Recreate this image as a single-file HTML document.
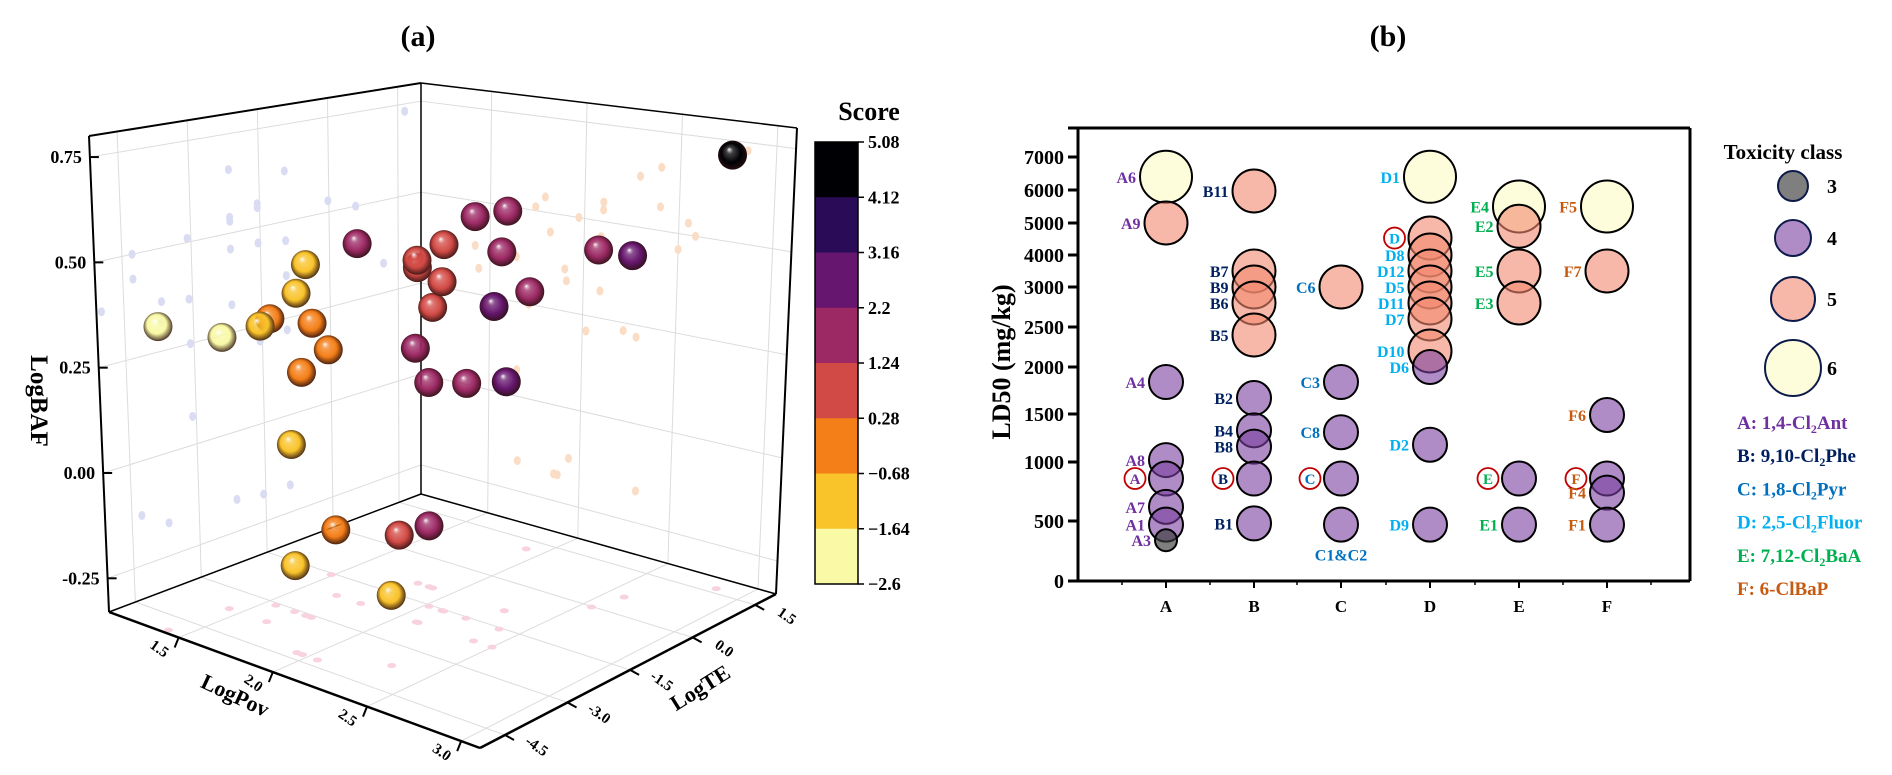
<!DOCTYPE html>
<html><head><meta charset="utf-8"><style>
html,body{margin:0;padding:0;background:#fff}
svg{display:block;font-family:"Liberation Serif",serif;font-weight:bold}
</style></head><body>
<svg id="fig" width="1892" height="775" viewBox="0 0 1892 775" xmlns="http://www.w3.org/2000/svg">
<defs id="defs"></defs>
<g id="pa"></g>
<g id="cb"></g>
<g id="pb"></g>
</svg>
<script>
// ===== Panel (a) data =====
const sPov = [1.42,1.44,1.74,1.97,1.64,1.55,2.05,1.49,1.71,1.79,2.10,1.82,2.10,2.09,1.90,2.09,2.02,2.29,2.40,2.40,1.91,2.50,2.22,2.29,2.55,2.59,2.85,1.66,1.86,1.88,1.94,2.31,1.65];
const sTE  = [-4.99,-3.68,-3.08,-4.28,-3.68,-3.08,-4.28,-1.55,-3.08,-2.15,-1.55,-0.95,-2.15,-1.55,-0.95,-2.15,-1.55,-0.95,-2.15,-1.55,1.18,-2.15,-1.55,-0.95,-0.02,0.58,1.65,-2.15,-1.55,-0.95,-4.28,-3.68,-3.08];
const sBAF = [0.38,0.32,0.51,0.50,0.37,0.36,0.44,0.23,0.25,0.54,0.55,0.45,0.53,0.46,0.36,0.32,0.21,0.63,0.66,0.56,0.33,0.46,0.23,0.22,0.53,0.50,0.73,-0.17,-0.18,-0.18,-0.13,-0.17,0.07];
const sScore = [-2.3,-2.2,-1.2,-1.2,-1.2,-0.2,-0.2,-0.2,-0.2,1.8,0.8,0.8,0.8,0.8,0.8,1.8,1.8,1.8,1.8,1.8,1.8,2.9,1.8,2.9,1.8,2.7,5.0,-0.2,0.8,1.8,-1.2,-1.2,-1.2];
const bafTicks = [-0.25,0,0.25,0.5,0.75];
const bafTickLabels = ["-0.25","0.00","0.25","0.50","0.75"];
const povTicks = [1.5,2.0,2.5,3.0];
const povTickLabels = ["1.5","2.0","2.5","3.0"];
const teTicks = [-4.5,-3.0,-1.5,0.0,1.5];
const teTickLabels = ["-4.5","-3.0","-1.5","0.0","1.5"];
const cbBounds = [5.08,4.12,3.16,2.2,1.24,0.28,-0.68,-1.64,-2.6];
const cbLabels = ["5.08","4.12","3.16","2.2","1.24","0.28","\u22120.68","\u22121.64","\u22122.6"];
const cbColors = ["#000004","#2a0b57","#66166e","#9c2964","#d24a45","#f47e17","#f9c32a","#f9f9a6"];

// ===== Panel (b) data =====
const bNames = ["A6","A9","A4","A8","A","A7","A1","A3","B11","B7","B9","B6","B5","B2","B4","B8","B","B1","C6","C3","C8","C","C1&C2","D1","D","D8","D12","D5","D11","D7","D10","D6","D2","D9","E4","E2","E5","E3","E","E1","F5","F7","F6","F","F4","F1"];
const bGroup = ["A","A","A","A","A","A","A","A","B","B","B","B","B","B","B","B","B","B","C","C","C","C","C","D","D","D","D","D","D","D","D","D","D","D","E","E","E","E","E","E","F","F","F","F","F","F"];
const bLD50 = [6400,5000,1840,1020,860,620,470,340,5970,3500,3000,2800,2400,1670,1330,1160,860,480,3000,1840,1310,860,470,6400,4530,4000,3500,3000,2800,2600,2200,2000,1180,470,5500,4900,3500,2800,860,470,5500,3500,1490,860,740,470];
const bClass = [6,5,4,4,4,4,4,3,5,5,5,5,5,4,4,4,4,4,5,4,4,4,4,6,5,5,5,5,5,5,5,4,4,4,6,5,5,5,4,4,6,5,4,4,4,4];
const parentNames = ["A","B","C","D","E","F"];
const yTickVals = [0,500,1000,1500,2000,2500,3000,4000,5000,6000,7000];
const yTickLabels = ["0","500","1000","1500","2000","2500","3000","4000","5000","6000","7000"];
const xCats = ["A","B","C","D","E","F"];
const legendClasses = [3,4,5,6];
const legendGroups = ["A","B","C","D","E","F"];
const legendGroupText = [["A: 1,4-Cl","2","Ant"],["B: 9,10-Cl","2","Phe"],["C: 1,8-Cl","2","Pyr"],["D: 2,5-Cl","2","Fluor"],["E: 7,12-Cl","2","BaA"],["F: 6-ClBaP","",""]];

const NS="http://www.w3.org/2000/svg";
function mk(tag,attrs,parent,text){const e=document.createElementNS(NS,tag);for(const k in attrs)e.setAttribute(k,attrs[k]);if(text!==undefined)e.textContent=text;parent.appendChild(e);return e;}
const defs=document.getElementById('defs');
const pa=document.getElementById('pa'), cb=document.getElementById('cb'), pb=document.getElementById('pb');

// ---- panel a projection ----
const FL={c00:[109,612],c10:[480,748],c11:[776,594],c01:[421,494]};
const TP={c00:[89,136],c10:[481,217],c11:[797,128],c01:[421,83]};
function bil(c,u,v,i){return c.c00[i]*(1-u)*(1-v)+c.c10[i]*u*(1-v)+c.c11[i]*u*v+c.c01[i]*(1-u)*v;}
function uvw(pov,te,baf){return [(pov-1.13)/1.97,(te+5.1)/7.1,(baf+0.33)/1.13];}
function projUVW(u,v,w){return [bil(FL,u,v,0)*(1-w)+bil(TP,u,v,0)*w, bil(FL,u,v,1)*(1-w)+bil(TP,u,v,1)*w];}
function proj(pov,te,baf){const q=uvw(pov,te,baf);return projUVW(q[0],q[1],q[2]);}
function colorFor(s){for(let i=0;i<8;i++){if(s>=cbBounds[i+1])return cbColors[i];}return cbColors[7];}
function line(p,q,st,sw,par,name){const l=mk('line',{x1:p[0],y1:p[1],x2:q[0],y2:q[1],stroke:st,'stroke-width':sw},par);return l;}

const title_a=mk('text',{x:418,y:46,'font-size':30,'text-anchor':'middle'},pa,'(a)');


// grid
const grid=mk('g',{},pa);
const gc='#dcdcdc';
bafTicks.forEach(b=>{const w=(b+0.33)/1.13;
  line(projUVW(0,0,w),projUVW(0,1,w),gc,1,grid,'left-wall-gridline');
  line(projUVW(0,1,w),projUVW(1,1,w),gc,1,grid,'right-wall-gridline');});
teTicks.forEach(t=>{const v=(t+5.1)/7.1;
  line(projUVW(0,v,0),projUVW(0,v,1),gc,1,grid,'left-wall-gridline');
  line(projUVW(0,v,0),projUVW(1,v,0),gc,1,grid,'floor-gridline');});
povTicks.forEach(p=>{const u=(p-1.13)/1.97;
  line(projUVW(u,1,0),projUVW(u,1,1),gc,1,grid,'right-wall-gridline');
  line(projUVW(u,0,0),projUVW(u,1,0),gc,1,grid,'floor-gridline');});

// shadows
const sh=mk('g',{},pa);
for(let i=0;i<sPov.length;i++){
  const q=uvw(sPov[i],sTE[i],sBAF[i]);
  const a=projUVW(0,q[1],q[2]);const e1=mk('ellipse',{cx:a[0],cy:a[1],rx:3.5,ry:4.5,fill:'#d9dcf2'},sh);
  
  const b=projUVW(q[0],1,q[2]);const e2=mk('ellipse',{cx:b[0],cy:b[1],rx:3.5,ry:4.5,fill:'#fbdcc4'},sh);
  
  const c=projUVW(q[0],q[1],0);const e3=mk('ellipse',{cx:c[0],cy:c[1],rx:4.5,ry:2.5,fill:'#f8d3de'},sh);
  
}

// box
const bx=mk('g',{},pa);
const L0=projUVW(0,0,0),L1=projUVW(0,0,1),B0=projUVW(0,1,0),B1=projUVW(0,1,1),R0=projUVW(1,1,0),R1=projUVW(1,1,1),F0=projUVW(1,0,0);
line(L0,L1,'#000',2,bx,'logbaf-axis-line');line(B0,B1,'#000',1.5,bx,'box-edge');line(R0,R1,'#000',2,bx,'box-edge');
line(L1,B1,'#000',2,bx,'box-edge');line(B1,R1,'#000',1.5,bx,'box-edge');
line(L0,F0,'#000',2.5,bx,'logpov-axis-line');line(F0,R0,'#000',2.5,bx,'logte-axis-line');
line(L0,B0,'#000',1.5,bx,'box-edge');line(B0,R0,'#000',1.5,bx,'box-edge');

// ticks
bafTicks.forEach((b,i)=>{const p=proj(1.13,-5.1,b);
  line(p,[p[0]+9,p[1]],'#000',2,bx,'logbaf-tick');
  const t=mk('text',{x:p[0]-8,y:p[1]+6,'font-size':18,'text-anchor':'end'},pa,bafTickLabels[i]);
  });
povTicks.forEach((p,i)=>{const q=proj(p,-5.1,-0.33);
  line(q,[q[0]-4,q[1]+10],'#000',2,bx,'logpov-tick');
  const t=mk('text',{x:q[0]-22,y:q[1]+15,'font-size':15,'text-anchor':'middle',transform:`rotate(35 ${q[0]-22} ${q[1]+15})`},pa,povTickLabels[i]);
  });
teTicks.forEach((tv,i)=>{const q=proj(3.1,tv,-0.33);
  line(q,[q[0]+9,q[1]+5],'#000',2,bx,'logte-tick');
  const t=mk('text',{x:q[0]+29,y:q[1]+15,'font-size':15,'text-anchor':'middle',transform:`rotate(35 ${q[0]+29} ${q[1]+15})`},pa,teTickLabels[i]);
  });
let at=mk('text',{x:31,y:401,'font-size':25,'text-anchor':'middle',transform:'rotate(90 31 401)'},pa,'LogBAF');

at=mk('text',{x:232,y:702,'font-size':22,'text-anchor':'middle',transform:'rotate(25 232 702)'},pa,'LogPov');

at=mk('text',{x:704,y:694,'font-size':22,'text-anchor':'middle',transform:'rotate(-32 704 694)'},pa,'LogTE');


// spheres
const gradMade={};
function grad(col){if(gradMade[col])return gradMade[col];const id='g'+col.slice(1);
  const g=mk('radialGradient',{id:id,cx:'50%',cy:'50%',r:'55%',fx:'38%',fy:'30%'},defs);
  mk('stop',{offset:'0%','stop-color':'#ffffff'},g);mk('stop',{offset:'22%','stop-color':col,'stop-opacity':'0.75'},g);
  mk('stop',{offset:'60%','stop-color':col},g);mk('stop',{offset:'100%','stop-color':'#2a1010'},g);
  gradMade[col]='url(#'+id+')';return gradMade[col];}
const order=sPov.map((p,i)=>i).sort((a,b)=>{const qa=uvw(sPov[a],sTE[a],sBAF[a]),qb=uvw(sPov[b],sTE[b],sBAF[b]);return (qa[0]-qa[1])-(qb[0]-qb[1]);});
const sg=mk('g',{},pa);
order.forEach(i=>{const p=proj(sPov[i],sTE[i],sBAF[i]);const col=colorFor(sScore[i]);
  const c=mk('circle',{cx:p[0],cy:p[1],r:14.5,fill:grad(col)},sg);
  });

// colorbar
const cbX=815,cbW=43,cbTop=142,cbSeg=55.25;
cbColors.forEach((c,i)=>{const r=mk('rect',{x:cbX,y:cbTop+i*cbSeg,width:cbW,height:cbSeg+0.5,fill:c},cb);
  });
let cbo=mk('rect',{x:cbX,y:cbTop,width:cbW,height:8*cbSeg,fill:'none',stroke:'#000','stroke-width':1.5},cb);

cbLabels.forEach((l,i)=>{const y=cbTop+i*cbSeg;line([cbX+cbW,y],[cbX+cbW+6,y],'#000',1.5,cb,'colorbar-tick');
  const t=mk('text',{x:cbX+cbW+10,y:y+6,'font-size':18},cb,l);});
cbo=mk('text',{x:869,y:120,'font-size':26,'text-anchor':'middle'},cb,'Score');


// ===== Panel b =====
const yPix=[581,521,462,414,367,327,287,255,223,190,157];
function yScale(v){for(let i=0;i<yTickVals.length-1;i++){if(v<=yTickVals[i+1]){const t=(v-yTickVals[i])/(yTickVals[i+1]-yTickVals[i]);return yPix[i]+t*(yPix[i+1]-yPix[i]);}}return yPix[yPix.length-1];}
const colX={A:1166,B:1254,C:1341,D:1430,E:1519,F:1607};
function xScale(c){return colX[c];}
const grpCol={A:'#7030a0',B:'#002060',C:'#0070c0',D:'#00b0f0',E:'#00b050',F:'#c55a11'};
const clsR={3:11,4:17,5:21.5,6:26};
const clsFill={3:['#3a3a3a',0.65],4:['#7a3fa0',0.6],5:['#f48870',0.6],6:['#fdfdd6',0.85]};

let tb=mk('text',{x:1388,y:46,'font-size':30,'text-anchor':'middle'},pb,'(b)');

line([1068,128],[1690,128],'#000',3,pb,'plot-top-border');
line([1690,128],[1690,581],'#000',3,pb,'plot-right-border');
line([1078,128],[1078,582],'#000',3,pb,'y-axis-line');
line([1078,581],[1690,581],'#000',3,pb,'x-axis-line');
yTickVals.forEach((v,i)=>{const y=yScale(v);line([1068,y],[1078,y],'#000',3,pb,'y-tick');
  const t=mk('text',{x:1064,y:y+7,'font-size':20,'text-anchor':'end'},pb,yTickLabels[i]);
  });
xCats.forEach((c,i)=>{const x=xScale(c);line([x,581],[x,588],'#000',2,pb,'x-tick');
  line([x-44,581],[x-44,585],'#000',1.5,pb,'x-minor-tick');
  const t=mk('text',{x:x,y:612,'font-size':17,'text-anchor':'middle'},pb,c);
  });
line([1651,581],[1651,585],'#000',1.5,pb,'x-minor-tick');
tb=mk('text',{x:1010,y:362,'font-size':26,'text-anchor':'middle',transform:'rotate(-90 1010 362)'},pb,'LD50 (mg/kg)');


const bubbles=mk('g',{},pb);
const labels=mk('g',{},pb);
bNames.forEach((n,i)=>{const cx=xScale(bGroup[i]),cy=yScale(bLD50[i]),k=bClass[i],r=clsR[k];
  const c=mk('circle',{cx:cx,cy:cy,r:r,fill:clsFill[k][0],'fill-opacity':clsFill[k][1],stroke:'#000','stroke-width':2},bubbles);
  
  const col=grpCol[bGroup[i]];
  if(parentNames.includes(n)){
    const lx=cx-r-14;
    const e=mk('ellipse',{cx:lx,cy:cy,rx:10.5,ry:10.5,fill:'none',stroke:'#c00000','stroke-width':1.8},labels);
    
    const t=mk('text',{x:lx,y:cy+5.5,'font-size':15,'text-anchor':'middle',fill:col},labels,n);
    
  } else if(n==='C1&C2'){
    const t=mk('text',{x:cx,y:cy+r+19,'font-size':16,'text-anchor':'middle',fill:col},labels,n);
    
  } else {
    const t=mk('text',{x:cx-r-4,y:cy+6,'font-size':16,'text-anchor':'end',fill:col},labels,n);
    
  }
});

// legend
const lg=mk('g',{},pb);
tb=mk('text',{x:1783,y:159,'font-size':21,'text-anchor':'middle'},lg,'Toxicity class');

const lgY=[186,238,299,368],lgR=[15,18,22,28];
legendClasses.forEach((k,i)=>{const c=mk('circle',{cx:1793,cy:lgY[i],r:lgR[i],fill:clsFill[k][0],'fill-opacity':clsFill[k][1],stroke:'#0d1b4a','stroke-width':2},lg);
  
  const t=mk('text',{x:1827,y:lgY[i]+7,'font-size':20},lg,String(k));});
legendGroups.forEach((g,i)=>{const y=429+i*33.2;const p=legendGroupText[i];
  const t=mk('text',{x:1737,y:y,'font-size':19,fill:grpCol[g]},lg);
  
  mk('tspan',{},t,p[0]);
  if(p[1]){mk('tspan',{'font-size':12,dy:4},t,p[1]);mk('tspan',{dy:-4},t,p[2]);}
});
</script>
</body></html>
